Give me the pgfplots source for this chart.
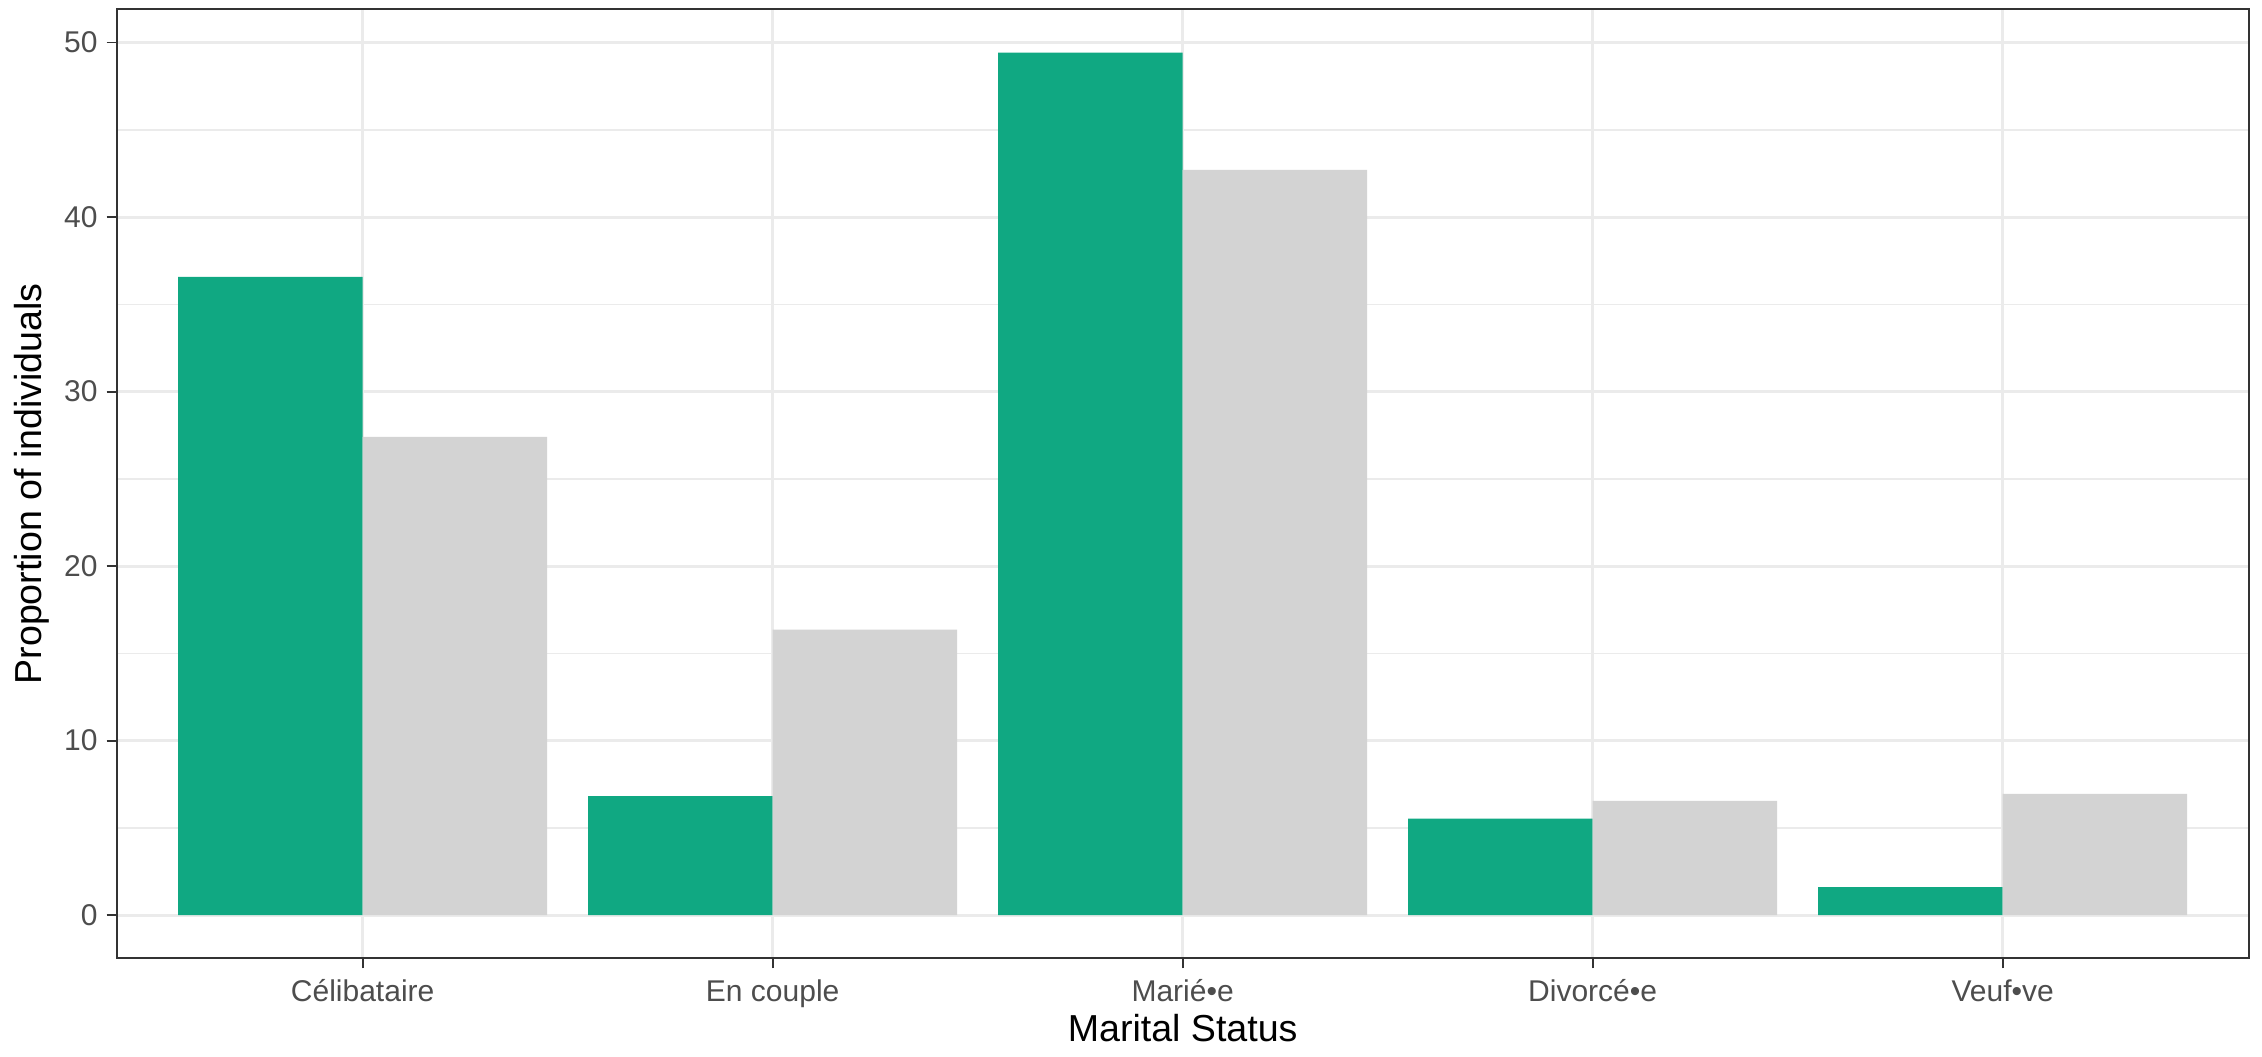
\documentclass[border=0pt]{standalone}
\usepackage{pgfplots}
\pgfplotsset{compat=1.18}
\usepackage{fontspec}
\setmainfont{Liberation Sans}
\definecolor{bargreen}{HTML}{10A882}
\definecolor{bargrey}{HTML}{D3D3D3}
\definecolor{gridgrey}{HTML}{EBEBEB}
\definecolor{ticktext}{HTML}{4D4D4D}
\definecolor{bordergrey}{HTML}{333333}
\begin{document}
\begin{tikzpicture}
\begin{axis}[
  scale only axis,
  width=703.5pt, height=313.1pt,
  xmin=-0.6, xmax=4.6,
  ymin=-2.47, ymax=51.9,
  xtick={0,1,2,3,4},
  xticklabels={Célibataire, En couple, Marié•e, Divorcé•e, Veuf•ve},
  ytick={0,10,20,30,40,50},
  minor ytick={5,15,25,35,45},
  xmajorgrids=true,
  ymajorgrids=true,
  yminorgrids=true,
  major grid style={draw=gridgrey, line width=1.0pt},
  minor grid style={draw=gridgrey, line width=0.5pt},
  axis line style={draw=bordergrey, line width=0.6pt},
  tick align=outside,
  major tick length=3.3pt,
  minor tick length=0pt,
  tick style={draw=bordergrey, line width=0.6pt},
  xtick pos=bottom, ytick pos=left,
  /pgf/number format/assume math mode=true,
  ticklabel style={font=\fontsize{9.9}{11}\selectfont, text=ticktext},
  xticklabel style={anchor=base, inner sep=0pt, yshift=-11.1pt},
  yticklabel style={anchor=east, inner sep=0pt, xshift=-2.8pt},
  label style={font=\fontsize{12.4}{14}\selectfont, text=black},
  xlabel={Marital Status},
  ylabel={Proportion of individuals},
  xlabel style={at={(axis description cs:0.5,0)}, anchor=base, inner sep=0pt, yshift=-27.6pt},
  ylabel style={at={(axis description cs:0,0.5)}, anchor=base, inner sep=0pt, yshift=24.7pt},
  ybar,
  bar width=0.45,
  axis on top=false,
]
\addplot[fill=bargreen, draw=none, bar shift=-0.225] coordinates {
  (0,36.57) (1,6.82) (2,49.43) (3,5.53) (4,1.60)
};
\addplot[fill=bargrey, draw=none, bar shift=0.225] coordinates {
  (0,27.41) (1,16.36) (2,42.71) (3,6.55) (4,6.95)
};
\coordinate (SW) at (rel axis cs:0,0);
\coordinate (NE) at (rel axis cs:1,1);
\end{axis}
\pgfresetboundingbox
\path ([shift={(-38.5pt,-32.3pt)}]SW) rectangle ([shift={(4.4pt,3.1pt)}]NE);
\end{tikzpicture}
\end{document}
